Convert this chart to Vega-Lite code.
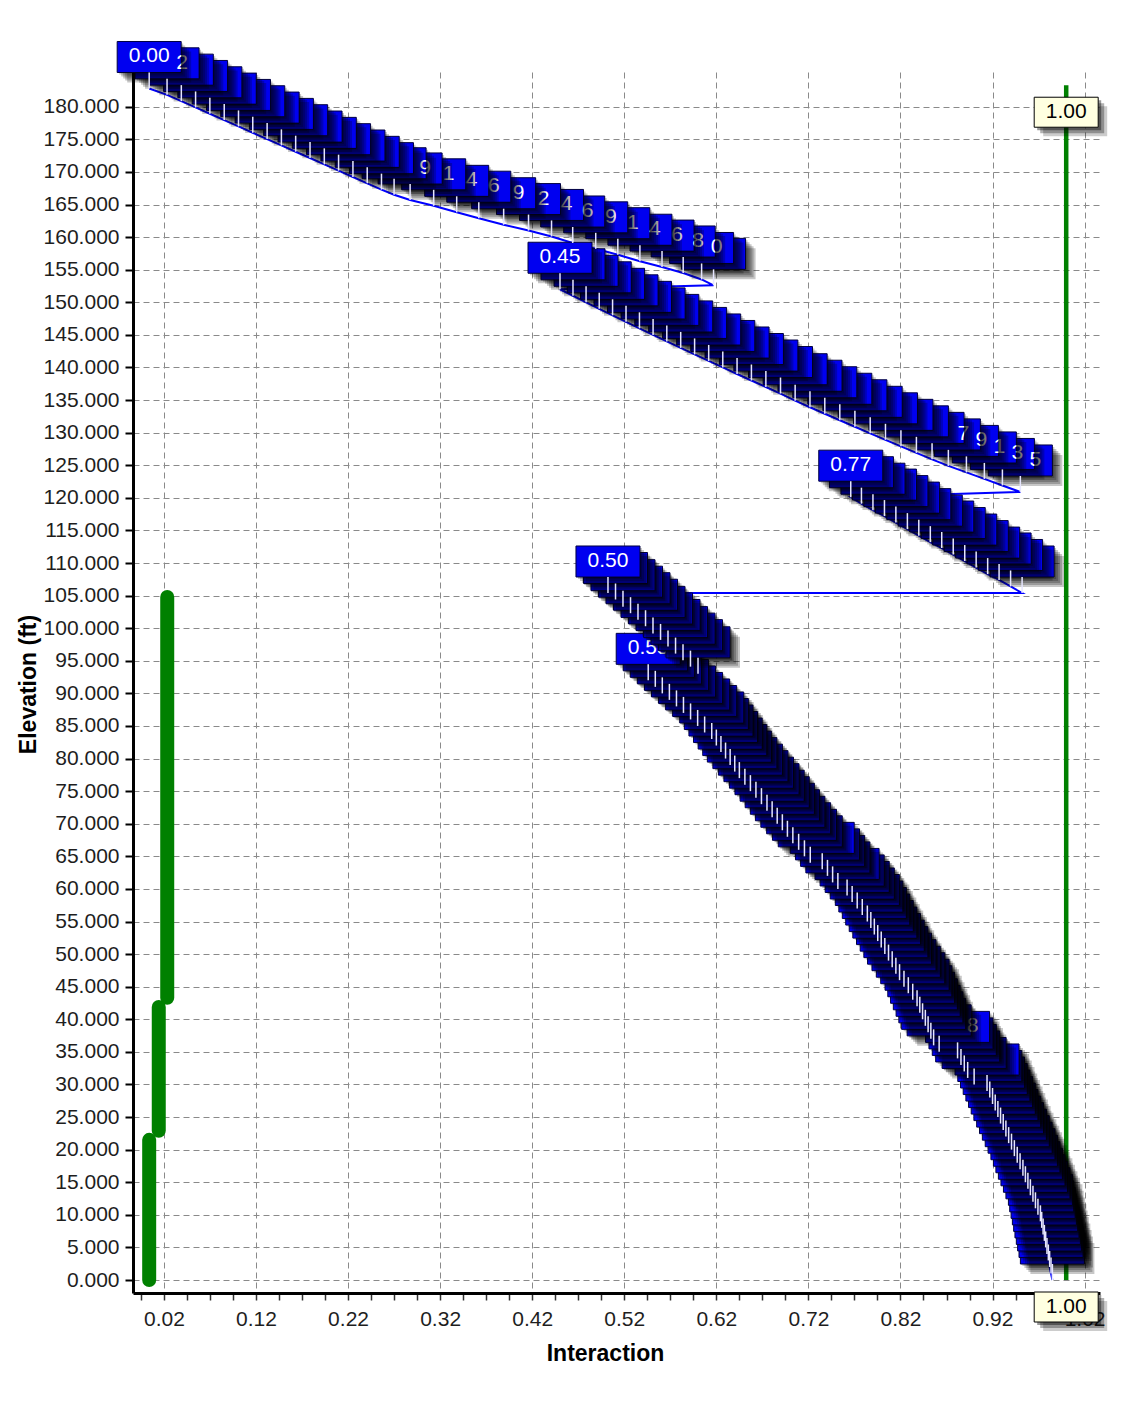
{
"$schema": "https://vega.github.io/schema/vega-lite/v6.json",
"width": 967, "height": 1221,
"autosize": "none",
"padding": {"left": 133, "top": 72, "right": 29, "bottom": 124},
"background": "white",
"config": {"view": {"stroke": null}, "font": "Liberation Sans"},
"datasets": {
"blue": [
{"i":0,"s":"A","k":0,"x":0.004,"e":182.8},
{"i":1,"s":"A","k":1,"x":0.0234,"e":181.83},
{"i":2,"s":"A","k":2,"x":0.0389,"e":180.86},
{"i":3,"s":"A","k":3,"x":0.0544,"e":179.89},
{"i":4,"s":"A","k":4,"x":0.0699,"e":178.92},
{"i":5,"s":"A","k":5,"x":0.0855,"e":177.95},
{"i":6,"s":"A","k":6,"x":0.101,"e":176.98},
{"i":7,"s":"A","k":7,"x":0.1165,"e":176.01},
{"i":8,"s":"A","k":8,"x":0.1321,"e":175.04},
{"i":9,"s":"A","k":9,"x":0.1476,"e":174.07},
{"i":10,"s":"A","k":10,"x":0.1631,"e":173.1},
{"i":11,"s":"A","k":11,"x":0.1787,"e":172.13},
{"i":12,"s":"A","k":12,"x":0.1942,"e":171.16},
{"i":13,"s":"A","k":13,"x":0.2097,"e":170.19},
{"i":14,"s":"A","k":14,"x":0.2253,"e":169.22},
{"i":15,"s":"A","k":15,"x":0.2408,"e":168.25},
{"i":16,"s":"A","k":16,"x":0.2563,"e":167.28},
{"i":17,"s":"A","k":17,"x":0.27,"e":166.5},
{"i":18,"s":"A","k":18,"x":0.2874,"e":165.7},
{"i":19,"s":"A","k":19,"x":0.313,"e":164.8},
{"i":20,"s":"A","k":20,"x":0.338,"e":163.8},
{"i":21,"s":"A","k":21,"x":0.362,"e":162.9},
{"i":22,"s":"A","k":22,"x":0.389,"e":161.9},
{"i":23,"s":"A","k":23,"x":0.416,"e":161.0},
{"i":24,"s":"A","k":24,"x":0.441,"e":160.1},
{"i":25,"s":"A","k":25,"x":0.464,"e":159.1},
{"i":26,"s":"A","k":26,"x":0.489,"e":158.2},
{"i":27,"s":"A","k":27,"x":0.513,"e":157.3},
{"i":28,"s":"A","k":28,"x":0.537,"e":156.3},
{"i":29,"s":"A","k":29,"x":0.561,"e":155.4},
{"i":30,"s":"A","k":30,"x":0.584,"e":154.5},
{"i":31,"s":"A","k":31,"x":0.604,"e":153.5},
{"i":32,"s":"A","k":32,"x":0.617,"e":152.6},
{"i":33,"s":"B","k":0,"x":0.4502,"e":152.0},
{"i":34,"s":"B","k":1,"x":0.4643,"e":151.0},
{"i":35,"s":"B","k":2,"x":0.4785,"e":150.0},
{"i":36,"s":"B","k":3,"x":0.4928,"e":149.0},
{"i":37,"s":"B","k":4,"x":0.5073,"e":148.0},
{"i":38,"s":"B","k":5,"x":0.5219,"e":147.0},
{"i":39,"s":"B","k":6,"x":0.5365,"e":146.0},
{"i":40,"s":"B","k":7,"x":0.5513,"e":145.0},
{"i":41,"s":"B","k":8,"x":0.5662,"e":144.0},
{"i":42,"s":"B","k":9,"x":0.5813,"e":143.0},
{"i":43,"s":"B","k":10,"x":0.5964,"e":142.0},
{"i":44,"s":"B","k":11,"x":0.6117,"e":141.0},
{"i":45,"s":"B","k":12,"x":0.627,"e":140.0},
{"i":46,"s":"B","k":13,"x":0.6425,"e":139.0},
{"i":47,"s":"B","k":14,"x":0.6581,"e":138.0},
{"i":48,"s":"B","k":15,"x":0.6738,"e":137.0},
{"i":49,"s":"B","k":16,"x":0.6897,"e":136.0},
{"i":50,"s":"B","k":17,"x":0.7056,"e":134.9},
{"i":51,"s":"B","k":18,"x":0.7217,"e":133.9},
{"i":52,"s":"B","k":19,"x":0.7378,"e":132.9},
{"i":53,"s":"B","k":20,"x":0.7541,"e":131.9},
{"i":54,"s":"B","k":21,"x":0.7705,"e":130.9},
{"i":55,"s":"B","k":22,"x":0.7871,"e":129.9},
{"i":56,"s":"B","k":23,"x":0.8037,"e":128.9},
{"i":57,"s":"B","k":24,"x":0.8205,"e":127.9},
{"i":58,"s":"B","k":25,"x":0.8373,"e":126.9},
{"i":59,"s":"B","k":26,"x":0.8543,"e":125.9},
{"i":60,"s":"B","k":27,"x":0.872,"e":124.9},
{"i":61,"s":"B","k":28,"x":0.8916,"e":123.9},
{"i":62,"s":"B","k":29,"x":0.9111,"e":122.9},
{"i":63,"s":"B","k":30,"x":0.9307,"e":121.9},
{"i":64,"s":"B","k":31,"x":0.9502,"e":120.9},
{"i":65,"s":"C","k":0,"x":0.766,"e":120.1},
{"i":66,"s":"C","k":1,"x":0.7776,"e":119.1},
{"i":67,"s":"C","k":2,"x":0.7901,"e":118.1},
{"i":68,"s":"C","k":3,"x":0.8026,"e":117.2},
{"i":69,"s":"C","k":4,"x":0.815,"e":116.2},
{"i":70,"s":"C","k":5,"x":0.8275,"e":115.2},
{"i":71,"s":"C","k":6,"x":0.8399,"e":114.2},
{"i":72,"s":"C","k":7,"x":0.8524,"e":113.2},
{"i":73,"s":"C","k":8,"x":0.8648,"e":112.3},
{"i":74,"s":"C","k":9,"x":0.8773,"e":111.3},
{"i":75,"s":"C","k":10,"x":0.8898,"e":110.3},
{"i":76,"s":"C","k":11,"x":0.9022,"e":109.3},
{"i":77,"s":"C","k":12,"x":0.9147,"e":108.3},
{"i":78,"s":"C","k":13,"x":0.9271,"e":107.4},
{"i":79,"s":"C","k":14,"x":0.9396,"e":106.4},
{"i":80,"s":"C","k":15,"x":0.9521,"e":105.4},
{"i":81,"s":"D","k":0,"x":0.5023,"e":105.4},
{"i":82,"s":"D","k":1,"x":0.5105,"e":104.4},
{"i":83,"s":"D","k":2,"x":0.5186,"e":103.3},
{"i":84,"s":"D","k":3,"x":0.5268,"e":102.3},
{"i":85,"s":"D","k":4,"x":0.5349,"e":101.3},
{"i":86,"s":"D","k":5,"x":0.5431,"e":100.3},
{"i":87,"s":"D","k":6,"x":0.5512,"e":99.2},
{"i":88,"s":"D","k":7,"x":0.5594,"e":98.2},
{"i":89,"s":"D","k":8,"x":0.5675,"e":97.2},
{"i":90,"s":"D","k":9,"x":0.5757,"e":96.1},
{"i":91,"s":"D","k":10,"x":0.5838,"e":95.1},
{"i":92,"s":"D","k":11,"x":0.5919,"e":94.1},
{"i":93,"s":"D","k":12,"x":0.6001,"e":93.0},
{"i":94,"s":"E","k":0,"x":0.546,"e":92},
{"i":95,"s":"E","k":1,"x":0.5537,"e":91},
{"i":96,"s":"E","k":2,"x":0.5613,"e":90},
{"i":97,"s":"E","k":3,"x":0.569,"e":89},
{"i":98,"s":"E","k":4,"x":0.5767,"e":88},
{"i":99,"s":"E","k":5,"x":0.5843,"e":87},
{"i":100,"s":"E","k":6,"x":0.592,"e":86},
{"i":101,"s":"E","k":7,"x":0.5997,"e":85},
{"i":102,"s":"E","k":8,"x":0.6073,"e":84},
{"i":103,"s":"E","k":9,"x":0.615,"e":83},
{"i":104,"s":"E","k":10,"x":0.62,"e":82},
{"i":105,"s":"E","k":11,"x":0.625,"e":81},
{"i":106,"s":"E","k":12,"x":0.63,"e":80},
{"i":107,"s":"E","k":13,"x":0.635,"e":79},
{"i":108,"s":"E","k":14,"x":0.64,"e":78},
{"i":109,"s":"E","k":15,"x":0.645,"e":77},
{"i":110,"s":"E","k":16,"x":0.651,"e":76},
{"i":111,"s":"E","k":17,"x":0.657,"e":75},
{"i":112,"s":"E","k":18,"x":0.663,"e":74},
{"i":113,"s":"E","k":19,"x":0.669,"e":73},
{"i":114,"s":"E","k":20,"x":0.675,"e":72},
{"i":115,"s":"E","k":21,"x":0.6806,"e":71},
{"i":116,"s":"E","k":22,"x":0.6861,"e":70},
{"i":117,"s":"E","k":23,"x":0.6917,"e":69},
{"i":118,"s":"E","k":24,"x":0.6972,"e":68},
{"i":119,"s":"E","k":25,"x":0.7031,"e":67},
{"i":120,"s":"E","k":26,"x":0.7094,"e":66},
{"i":121,"s":"E","k":27,"x":0.7157,"e":65},
{"i":122,"s":"E","k":28,"x":0.722,"e":64},
{"i":123,"s":"E","k":29,"x":0.735,"e":63},
{"i":124,"s":"E","k":30,"x":0.7407,"e":62},
{"i":125,"s":"E","k":31,"x":0.7463,"e":61},
{"i":126,"s":"E","k":32,"x":0.752,"e":60},
{"i":127,"s":"E","k":33,"x":0.762,"e":59},
{"i":128,"s":"E","k":34,"x":0.7675,"e":58},
{"i":129,"s":"E","k":35,"x":0.773,"e":57},
{"i":130,"s":"E","k":36,"x":0.7785,"e":56},
{"i":131,"s":"E","k":37,"x":0.784,"e":55},
{"i":132,"s":"E","k":38,"x":0.7878,"e":54},
{"i":133,"s":"E","k":39,"x":0.7916,"e":53},
{"i":134,"s":"E","k":40,"x":0.7953,"e":52},
{"i":135,"s":"E","k":41,"x":0.7991,"e":51},
{"i":136,"s":"E","k":42,"x":0.803,"e":50},
{"i":137,"s":"E","k":43,"x":0.807,"e":49},
{"i":138,"s":"E","k":44,"x":0.811,"e":48},
{"i":139,"s":"E","k":45,"x":0.815,"e":47},
{"i":140,"s":"E","k":46,"x":0.819,"e":46},
{"i":141,"s":"E","k":47,"x":0.8238,"e":45},
{"i":142,"s":"E","k":48,"x":0.8285,"e":44},
{"i":143,"s":"E","k":49,"x":0.8333,"e":43},
{"i":144,"s":"E","k":50,"x":0.838,"e":42},
{"i":145,"s":"E","k":51,"x":0.841,"e":41},
{"i":146,"s":"E","k":52,"x":0.844,"e":40},
{"i":147,"s":"E","k":53,"x":0.847,"e":39},
{"i":148,"s":"E","k":54,"x":0.85,"e":38},
{"i":149,"s":"E","k":55,"x":0.853,"e":37},
{"i":150,"s":"E","k":56,"x":0.856,"e":36},
{"i":151,"s":"E","k":57,"x":0.862,"e":35},
{"i":152,"s":"E","k":58,"x":0.882,"e":34},
{"i":153,"s":"E","k":59,"x":0.8857,"e":33},
{"i":154,"s":"E","k":60,"x":0.8893,"e":32},
{"i":155,"s":"E","k":61,"x":0.893,"e":31},
{"i":156,"s":"E","k":62,"x":0.9,"e":30},
{"i":157,"s":"E","k":63,"x":0.914,"e":29},
{"i":158,"s":"E","k":64,"x":0.917,"e":28},
{"i":159,"s":"E","k":65,"x":0.92,"e":27},
{"i":160,"s":"E","k":66,"x":0.9229,"e":26},
{"i":161,"s":"E","k":67,"x":0.9258,"e":25},
{"i":162,"s":"E","k":68,"x":0.9287,"e":24},
{"i":163,"s":"E","k":69,"x":0.9316,"e":23},
{"i":164,"s":"E","k":70,"x":0.9345,"e":22},
{"i":165,"s":"E","k":71,"x":0.9375,"e":21},
{"i":166,"s":"E","k":72,"x":0.9406,"e":20},
{"i":167,"s":"E","k":73,"x":0.9437,"e":19},
{"i":168,"s":"E","k":74,"x":0.9468,"e":18},
{"i":169,"s":"E","k":75,"x":0.9499,"e":17},
{"i":170,"s":"E","k":76,"x":0.953,"e":16},
{"i":171,"s":"E","k":77,"x":0.9557,"e":15},
{"i":172,"s":"E","k":78,"x":0.9584,"e":14},
{"i":173,"s":"E","k":79,"x":0.9611,"e":13},
{"i":174,"s":"E","k":80,"x":0.9639,"e":12},
{"i":175,"s":"E","k":81,"x":0.9666,"e":11},
{"i":176,"s":"E","k":82,"x":0.9693,"e":10},
{"i":177,"s":"E","k":83,"x":0.972,"e":9},
{"i":178,"s":"E","k":84,"x":0.9734,"e":8},
{"i":179,"s":"E","k":85,"x":0.9749,"e":7},
{"i":180,"s":"E","k":86,"x":0.9763,"e":6},
{"i":181,"s":"E","k":87,"x":0.9777,"e":5},
{"i":182,"s":"E","k":88,"x":0.9791,"e":4},
{"i":183,"s":"E","k":89,"x":0.9806,"e":3},
{"i":184,"s":"E","k":90,"x":0.982,"e":2},
{"i":185,"s":"E","k":91,"x":0.9835,"e":1},
{"i":186,"s":"E","k":92,"x":0.985,"e":0}
],
"gsteps": [
{"g":1,"x":0.004,"e":0},{"g":1,"x":0.004,"e":21.5},
{"g":2,"x":0.0144,"e":22.9},{"g":2,"x":0.0144,"e":41.9},
{"g":3,"x":0.0236,"e":43.3},{"g":3,"x":0.0236,"e":104.8}
],
"gline": [{"x":1.0,"e":0},{"x":1.0,"e":183.3}]
},
"encoding": {
"x": {"field": "x", "type": "quantitative",
 "scale": {"domain": [-0.01358, 1.03671], "nice": false, "zero": false},
 "axis": {
  "title": "Interaction",
  "values": [-0.005,0.02,0.045,0.07,0.095,0.12,0.145,0.17,0.195,0.22,0.245,0.27,0.295,0.32,0.345,0.37,0.395,0.42,0.445,0.47,0.495,0.52,0.545,0.57,0.595,0.62,0.645,0.67,0.695,0.72,0.745,0.77,0.795,0.82,0.845,0.87,0.895,0.92,0.945,0.97,0.995,1.02],
  "labelExpr": "abs((datum.value - 0.02) * 10 - round((datum.value - 0.02) * 10)) < 0.01 ? format(datum.value, '.2f') : ''",
  "grid": true,
  "gridOpacity": {"condition": {"test": "abs((datum.value - 0.02) * 10 - round((datum.value - 0.02) * 10)) < 0.01", "value": 1}, "value": 0},
  "gridColor": "#8a8a8a", "gridDash": [6, 4], "gridWidth": 1,
  "domainColor": "black", "domainWidth": 3,
  "tickColor": "#333333", "tickSize": 7, "tickWidth": 1.5,
  "labelFont": "Liberation Sans", "labelFontSize": 21, "labelColor": "#1e1e1e", "labelPadding": 8,
  "labelFlush": false, "labelOverlap": false,
  "titleFont": "Liberation Sans", "titleFontSize": 23, "titleFontWeight": "bold", "titleColor": "black",
  "titleX": 472, "titleY": 67, "titleAlign": "center", "titleBaseline": "alphabetic"
 }},
"y": {"field": "e", "type": "quantitative",
 "scale": {"domain": [-1.994, 185.33], "nice": false, "zero": false},
 "axis": {
  "title": "Elevation (ft)",
  "values": [0,5,10,15,20,25,30,35,40,45,50,55,60,65,70,75,80,85,90,95,100,105,110,115,120,125,130,135,140,145,150,155,160,165,170,175,180],
  "format": ".3f",
  "grid": true, "gridColor": "#8a8a8a", "gridDash": [6, 4], "gridWidth": 1,
  "domainColor": "black", "domainWidth": 3,
  "tickColor": "black", "tickSize": 8, "tickWidth": 2,
  "labelFont": "Liberation Sans", "labelFontSize": 21, "labelColor": "#1e1e1e", "labelPadding": 6,
  "labelFlush": false, "labelOverlap": false,
  "titleFont": "Liberation Sans", "titleFontSize": 23, "titleFontWeight": "bold", "titleColor": "black",
  "titleX": -105, "titleY": 612, "titleAngle": 270, "titleAlign": "center", "titleBaseline": "middle"
 }}
},
"layer": [
{"data": {"name": "gsteps"},
 "mark": {"type": "line", "color": "#008000", "strokeWidth": 14, "strokeCap": "round"},
 "encoding": {"detail": {"field": "g", "type": "nominal"}, "order": {"field": "e", "type": "quantitative"}}},
{"data": {"name": "gline"},
 "mark": {"type": "line", "color": "#008000", "strokeWidth": 4.5},
 "encoding": {"order": {"field": "e", "type": "quantitative"}}},
{"data": {"name": "blue"},
 "mark": {"type": "line", "color": "#0000ff", "strokeWidth": 2},
 "encoding": {"order": {"field": "i", "type": "quantitative"}}},
{"data": {"name": "blue"}, "transform": [{"filter": "datum.s == 'E'"}],
 "layer": [
  {"mark": {"type": "point", "shape": "M-32,-47H32V-16H-32Z", "size": 4, "filled": true, "fill": "#0000f0", "stroke": "#000040", "strokeWidth": 1, "opacity": 1},
   "encoding": {"order": {"field": "i", "type": "quantitative", "sort": "descending"}}},
  {"transform": [{"window": [{"op": "lag", "field": "x", "as": "px"}], "sort": [{"field": "i"}]}, {"filter": "datum.k > 0 && datum.x - datum.px > 0.0172"}, {"calculate": "slice(format(datum.x, '.2f'), -1)", "as": "d"}],
   "mark": {"type": "text", "dx": 15, "dy": -32, "fontSize": 21, "font": "Liberation Sans", "color": "white", "align": "center", "baseline": "middle"},
   "encoding": {"text": {"field": "d", "type": "nominal"}}},
  {"mark": {"type": "point", "shape": "M32,-45H34V-14H-30V-16H32Z", "size": 4, "filled": true, "fill": "black", "fillOpacity": 0.22, "strokeWidth": 0, "opacity": 1}, "encoding": {}},
  {"mark": {"type": "point", "shape": "M32,-43H36V-12H-28V-16H32Z", "size": 4, "filled": true, "fill": "black", "fillOpacity": 0.22, "strokeWidth": 0, "opacity": 1}, "encoding": {}},
  {"mark": {"type": "point", "shape": "M32,-41H38V-10H-26V-16H32Z", "size": 4, "filled": true, "fill": "black", "fillOpacity": 0.22, "strokeWidth": 0, "opacity": 1}, "encoding": {}},
  {"mark": {"type": "point", "shape": "M32,-39H40V-8H-24V-16H32Z", "size": 4, "filled": true, "fill": "black", "fillOpacity": 0.22, "strokeWidth": 0, "opacity": 1}, "encoding": {}},
  {"mark": {"type": "point", "shape": "M32,-37H42V-6H-22V-16H32Z", "size": 4, "filled": true, "fill": "black", "fillOpacity": 0.22, "strokeWidth": 0, "opacity": 1}, "encoding": {}},
  {"mark": {"type": "point", "shape": "M0,-16V0", "size": 4, "filled": false, "stroke": "#e6e6ff", "strokeWidth": 1.5, "opacity": 1}, "encoding": {}},
  {"transform": [{"filter": "datum.k == 0"}],
   "mark": {"type": "text", "dy": -32, "fontSize": 21, "font": "Liberation Sans", "color": "white", "align": "center", "baseline": "middle"},
   "encoding": {"text": {"field": "x", "type": "quantitative", "format": ".2f"}}}
 ]},
{"data": {"name": "blue"}, "transform": [{"filter": "datum.s == 'D'"}],
 "layer": [
  {"mark": {"type": "point", "shape": "M-32,-47H32V-16H-32Z", "size": 4, "filled": true, "fill": "#0000f0", "stroke": "#000040", "strokeWidth": 1, "opacity": 1},
   "encoding": {"order": {"field": "i", "type": "quantitative", "sort": "descending"}}},
  {"mark": {"type": "point", "shape": "M32,-45H34V-14H-30V-16H32Z", "size": 4, "filled": true, "fill": "black", "fillOpacity": 0.22, "strokeWidth": 0, "opacity": 1}, "encoding": {}},
  {"mark": {"type": "point", "shape": "M32,-43H36V-12H-28V-16H32Z", "size": 4, "filled": true, "fill": "black", "fillOpacity": 0.22, "strokeWidth": 0, "opacity": 1}, "encoding": {}},
  {"mark": {"type": "point", "shape": "M32,-41H38V-10H-26V-16H32Z", "size": 4, "filled": true, "fill": "black", "fillOpacity": 0.22, "strokeWidth": 0, "opacity": 1}, "encoding": {}},
  {"mark": {"type": "point", "shape": "M32,-39H40V-8H-24V-16H32Z", "size": 4, "filled": true, "fill": "black", "fillOpacity": 0.22, "strokeWidth": 0, "opacity": 1}, "encoding": {}},
  {"mark": {"type": "point", "shape": "M32,-37H42V-6H-22V-16H32Z", "size": 4, "filled": true, "fill": "black", "fillOpacity": 0.22, "strokeWidth": 0, "opacity": 1}, "encoding": {}},
  {"mark": {"type": "point", "shape": "M0,-16V0", "size": 4, "filled": false, "stroke": "#e6e6ff", "strokeWidth": 1.5, "opacity": 1}, "encoding": {}},
  {"transform": [{"filter": "datum.k == 0"}],
   "mark": {"type": "text", "dy": -32, "fontSize": 21, "font": "Liberation Sans", "color": "white", "align": "center", "baseline": "middle"},
   "encoding": {"text": {"field": "x", "type": "quantitative", "format": ".2f"}}}
 ]},
{"data": {"name": "blue"}, "transform": [{"filter": "datum.s == 'C'"}],
 "layer": [
  {"mark": {"type": "point", "shape": "M-32,-47H32V-16H-32Z", "size": 4, "filled": true, "fill": "#0000f0", "stroke": "#000040", "strokeWidth": 1, "opacity": 1},
   "encoding": {"order": {"field": "i", "type": "quantitative", "sort": "descending"}}},
  {"mark": {"type": "point", "shape": "M32,-45H34V-14H-30V-16H32Z", "size": 4, "filled": true, "fill": "black", "fillOpacity": 0.22, "strokeWidth": 0, "opacity": 1}, "encoding": {}},
  {"mark": {"type": "point", "shape": "M32,-43H36V-12H-28V-16H32Z", "size": 4, "filled": true, "fill": "black", "fillOpacity": 0.22, "strokeWidth": 0, "opacity": 1}, "encoding": {}},
  {"mark": {"type": "point", "shape": "M32,-41H38V-10H-26V-16H32Z", "size": 4, "filled": true, "fill": "black", "fillOpacity": 0.22, "strokeWidth": 0, "opacity": 1}, "encoding": {}},
  {"mark": {"type": "point", "shape": "M32,-39H40V-8H-24V-16H32Z", "size": 4, "filled": true, "fill": "black", "fillOpacity": 0.22, "strokeWidth": 0, "opacity": 1}, "encoding": {}},
  {"mark": {"type": "point", "shape": "M32,-37H42V-6H-22V-16H32Z", "size": 4, "filled": true, "fill": "black", "fillOpacity": 0.22, "strokeWidth": 0, "opacity": 1}, "encoding": {}},
  {"mark": {"type": "point", "shape": "M0,-16V0", "size": 4, "filled": false, "stroke": "#e6e6ff", "strokeWidth": 1.5, "opacity": 1}, "encoding": {}},
  {"transform": [{"filter": "datum.k == 0"}],
   "mark": {"type": "text", "dy": -32, "fontSize": 21, "font": "Liberation Sans", "color": "white", "align": "center", "baseline": "middle"},
   "encoding": {"text": {"field": "x", "type": "quantitative", "format": ".2f"}}}
 ]},
{"data": {"name": "blue"}, "transform": [{"filter": "datum.s == 'B'"}],
 "layer": [
  {"mark": {"type": "point", "shape": "M-32,-47H32V-16H-32Z", "size": 4, "filled": true, "fill": "#0000f0", "stroke": "#000040", "strokeWidth": 1, "opacity": 1},
   "encoding": {"order": {"field": "i", "type": "quantitative", "sort": "descending"}}},
  {"transform": [{"window": [{"op": "lag", "field": "x", "as": "px"}], "sort": [{"field": "i"}]}, {"filter": "datum.k > 0 && datum.x - datum.px > 0.0172"}, {"calculate": "slice(format(datum.x, '.2f'), -1)", "as": "d"}],
   "mark": {"type": "text", "dx": 15, "dy": -32, "fontSize": 21, "font": "Liberation Sans", "color": "white", "align": "center", "baseline": "middle"},
   "encoding": {"text": {"field": "d", "type": "nominal"}}},
  {"mark": {"type": "point", "shape": "M32,-45H34V-14H-30V-16H32Z", "size": 4, "filled": true, "fill": "black", "fillOpacity": 0.22, "strokeWidth": 0, "opacity": 1}, "encoding": {}},
  {"mark": {"type": "point", "shape": "M32,-43H36V-12H-28V-16H32Z", "size": 4, "filled": true, "fill": "black", "fillOpacity": 0.22, "strokeWidth": 0, "opacity": 1}, "encoding": {}},
  {"mark": {"type": "point", "shape": "M32,-41H38V-10H-26V-16H32Z", "size": 4, "filled": true, "fill": "black", "fillOpacity": 0.22, "strokeWidth": 0, "opacity": 1}, "encoding": {}},
  {"mark": {"type": "point", "shape": "M32,-39H40V-8H-24V-16H32Z", "size": 4, "filled": true, "fill": "black", "fillOpacity": 0.22, "strokeWidth": 0, "opacity": 1}, "encoding": {}},
  {"mark": {"type": "point", "shape": "M32,-37H42V-6H-22V-16H32Z", "size": 4, "filled": true, "fill": "black", "fillOpacity": 0.22, "strokeWidth": 0, "opacity": 1}, "encoding": {}},
  {"mark": {"type": "point", "shape": "M0,-16V0", "size": 4, "filled": false, "stroke": "#e6e6ff", "strokeWidth": 1.5, "opacity": 1}, "encoding": {}},
  {"transform": [{"filter": "datum.k == 0"}],
   "mark": {"type": "text", "dy": -32, "fontSize": 21, "font": "Liberation Sans", "color": "white", "align": "center", "baseline": "middle"},
   "encoding": {"text": {"field": "x", "type": "quantitative", "format": ".2f"}}}
 ]},
{"data": {"name": "blue"}, "transform": [{"filter": "datum.s == 'A'"}],
 "layer": [
  {"mark": {"type": "point", "shape": "M-32,-47H32V-16H-32Z", "size": 4, "filled": true, "fill": "#0000f0", "stroke": "#000040", "strokeWidth": 1, "opacity": 1},
   "encoding": {"order": {"field": "i", "type": "quantitative", "sort": "descending"}}},
  {"transform": [{"window": [{"op": "lag", "field": "x", "as": "px"}], "sort": [{"field": "i"}]}, {"filter": "datum.k > 0 && datum.x - datum.px > 0.0172"}, {"calculate": "slice(format(datum.x, '.2f'), -1)", "as": "d"}],
   "mark": {"type": "text", "dx": 15, "dy": -32, "fontSize": 21, "font": "Liberation Sans", "color": "white", "align": "center", "baseline": "middle"},
   "encoding": {"text": {"field": "d", "type": "nominal"}}},
  {"mark": {"type": "point", "shape": "M32,-45H34V-14H-30V-16H32Z", "size": 4, "filled": true, "fill": "black", "fillOpacity": 0.22, "strokeWidth": 0, "opacity": 1}, "encoding": {}},
  {"mark": {"type": "point", "shape": "M32,-43H36V-12H-28V-16H32Z", "size": 4, "filled": true, "fill": "black", "fillOpacity": 0.22, "strokeWidth": 0, "opacity": 1}, "encoding": {}},
  {"mark": {"type": "point", "shape": "M32,-41H38V-10H-26V-16H32Z", "size": 4, "filled": true, "fill": "black", "fillOpacity": 0.22, "strokeWidth": 0, "opacity": 1}, "encoding": {}},
  {"mark": {"type": "point", "shape": "M32,-39H40V-8H-24V-16H32Z", "size": 4, "filled": true, "fill": "black", "fillOpacity": 0.22, "strokeWidth": 0, "opacity": 1}, "encoding": {}},
  {"mark": {"type": "point", "shape": "M32,-37H42V-6H-22V-16H32Z", "size": 4, "filled": true, "fill": "black", "fillOpacity": 0.22, "strokeWidth": 0, "opacity": 1}, "encoding": {}},
  {"mark": {"type": "point", "shape": "M0,-16V0", "size": 4, "filled": false, "stroke": "#e6e6ff", "strokeWidth": 1.5, "opacity": 1}, "encoding": {}},
  {"transform": [{"filter": "datum.k == 0"}],
   "mark": {"type": "text", "dy": -32, "fontSize": 21, "font": "Liberation Sans", "color": "white", "align": "center", "baseline": "middle"},
   "encoding": {"text": {"field": "x", "type": "quantitative", "format": ".2f"}}}
 ]},
{"data": {"name": "gline"},
 "layer": [
  {"mark": {"type": "point", "shape": "M32,15H35V45H-29V42H32Z", "size": 4, "filled": true, "fill": "black", "fillOpacity": 0.4, "strokeWidth": 0, "opacity": 1}, "encoding": {}},
  {"mark": {"type": "point", "shape": "M32,18H38V48H-26V42H32Z", "size": 4, "filled": true, "fill": "black", "fillOpacity": 0.3, "strokeWidth": 0, "opacity": 1}, "encoding": {}},
  {"mark": {"type": "point", "shape": "M32,21H41V51H-23V42H32Z", "size": 4, "filled": true, "fill": "black", "fillOpacity": 0.2, "strokeWidth": 0, "opacity": 1}, "encoding": {}},
  {"mark": {"type": "point", "shape": "M-32,12H32V42H-32Z", "size": 4, "filled": true, "fill": "#ffffe1", "stroke": "black", "strokeWidth": 1, "opacity": 1}, "encoding": {}},
  {"mark": {"type": "text", "dy": 27, "fontSize": 21, "font": "Liberation Sans", "color": "black", "align": "center", "baseline": "middle"},
   "encoding": {"text": {"field": "x", "type": "quantitative", "format": ".2f"}}}
 ]}
]
}
